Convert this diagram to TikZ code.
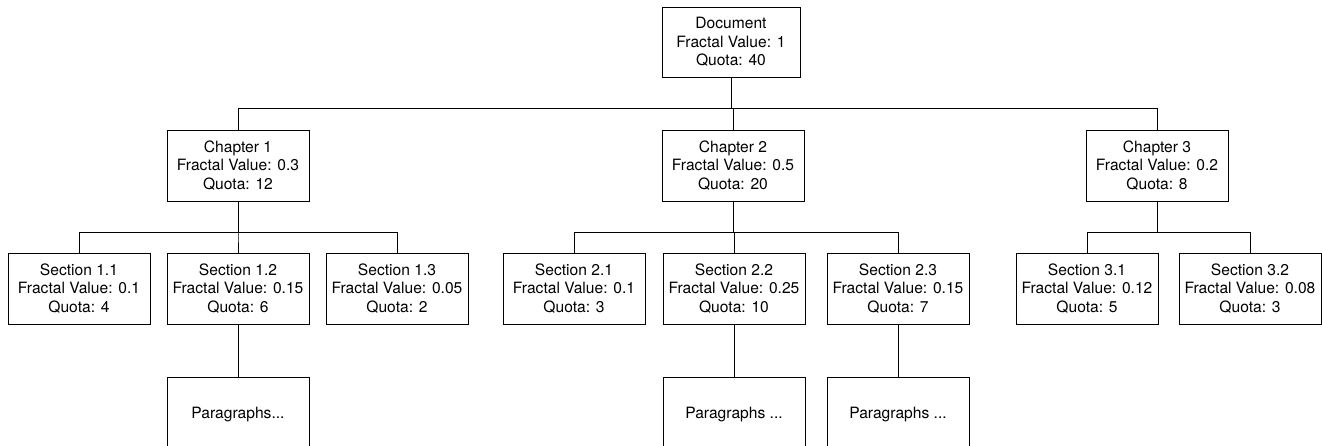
\documentclass[tikz,border=0pt]{standalone}
\usepackage{fontspec}
\setmainfont{TeX Gyre Heros}
\begin{document}
\begin{tikzpicture}[x=1pt,y=-1pt,
  box/.style={draw, line width=0.9pt, minimum width=142pt, minimum height=71pt,
    inner sep=0pt, align=center, font=\fontsize{15.6}{18.3}\selectfont},
  parabox/.style={box, minimum height=76pt},
  link/.style={line width=0.9pt}]
\useasboundingbox (0,0) rectangle (1322,446);

% root
\node[box, minimum width=138pt, minimum height=70pt] (doc) at (731,42) {Document\\Fractal Value: 1\\Quota: 40};

% chapters
\node[box] (ch1) at (238,165.5) {Chapter 1\\Fractal Value: 0.3\\Quota: 12};
\node[box] (ch2) at (733,165.5) {Chapter 2\\Fractal Value: 0.5\\Quota: 20};
\node[box] (ch3) at (1157,165.5) {Chapter 3\\Fractal Value: 0.2\\Quota: 8};

% sections
\node[box] (s11) at (79,288.5) {Section 1.1\\Fractal Value: 0.1\\Quota: 4};
\node[box] (s12) at (238,288.5) {Section 1.2\\Fractal Value: 0.15\\Quota: 6};
\node[box] (s13) at (397,288.5) {Section 1.3\\Fractal Value: 0.05\\Quota: 2};
\node[box] (s21) at (574,288.5) {Section 2.1\\Fractal Value: 0.1\\Quota: 3};
\node[box] (s22) at (734,288.5) {Section 2.2\\Fractal Value: 0.25\\Quota: 10};
\node[box] (s23) at (898,288.5) {Section 2.3\\Fractal Value: 0.15\\Quota: 7};
\node[box] (s31) at (1087,288.5) {Section 3.1\\Fractal Value: 0.12\\Quota: 5};
\node[box] (s32) at (1250,288.5) {Section 3.2\\Fractal Value: 0.08\\Quota: 3};

% paragraph boxes (running past the lower edge)
\node[parabox] (p12) at (238,415) {Paragraphs...};
\node[parabox] (p22) at (734,415) {Paragraphs ...};
\node[parabox] (p23) at (898,415) {Paragraphs ...};

% connectors: document to chapters
\draw[link] (doc.south) -- ++(0,31) -| (ch1.north);
\draw[link] (doc.south) -- ++(0,31) -| (ch2.north);
\draw[link] (doc.south) -- ++(0,31) -| (ch3.north);

% chapters to sections
\foreach \s in {s11,s12,s13} \draw[link] (ch1.south) -- ++(0,31) -| (\s.north);
\foreach \s in {s21,s22,s23} \draw[link] (ch2.south) -- ++(0,31) -| (\s.north);
\foreach \s in {s31,s32} \draw[link] (ch3.south) -- ++(0,31) -| (\s.north);

% sections to paragraphs
\draw[link] (s12.south) -- (p12.north);
\draw[link] (s22.south) -- (p22.north);
\draw[link] (s23.south) -- (p23.north);
\end{tikzpicture}
\end{document}
